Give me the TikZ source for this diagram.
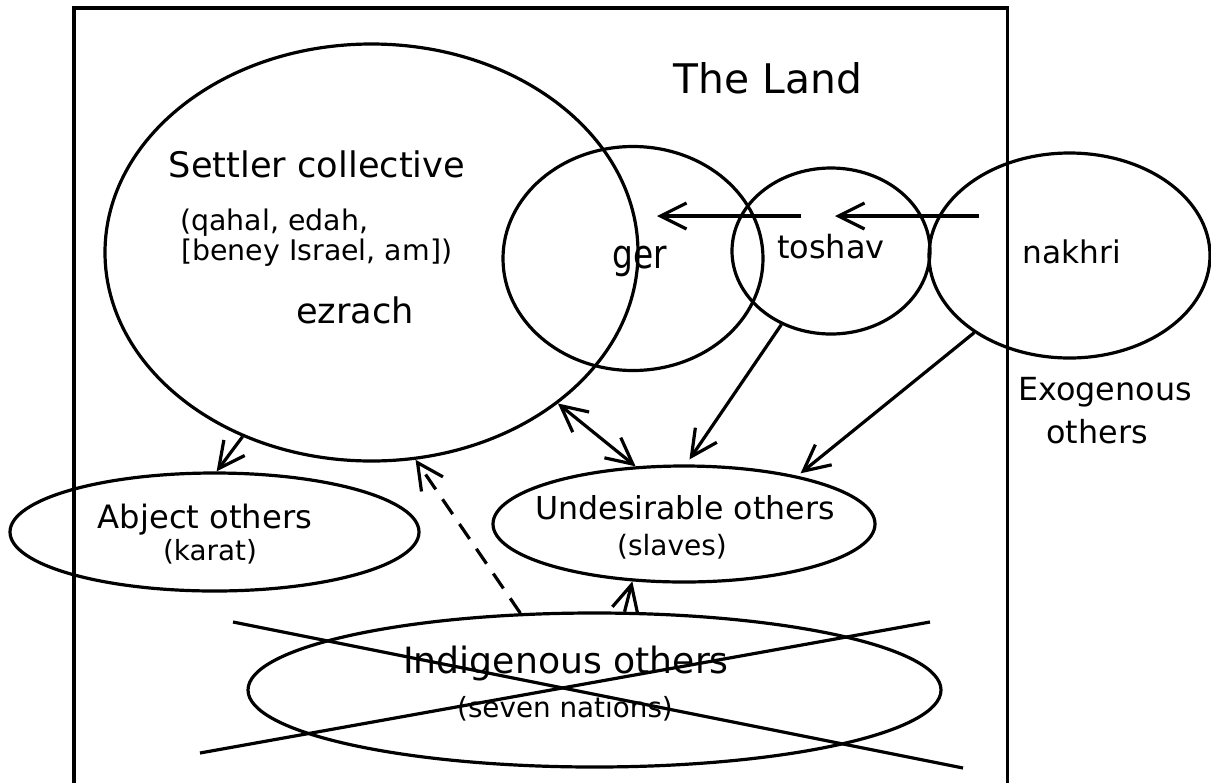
\documentclass[tikz,border=0pt]{standalone}
\usepackage{fontspec}
\setmainfont{DejaVu Sans}
\usetikzlibrary{shapes.geometric,arrows.meta}
\newcommand{\myfs}[1]{\fontsize{#1}{#1}\selectfont}
\tikzset{
  blob/.style={draw, ellipse, line width=1.6pt, inner sep=0pt},
  lbl/.style={inner sep=0pt, anchor=base},
  lblw/.style={inner sep=0pt, anchor=base west},
  arr/.style={line width=1.6pt, -{Straight Barb[length=13pt,width=13pt]}},
  darr/.style={line width=1.6pt, {Straight Barb[length=13pt,width=13pt]}-{Straight Barb[length=13pt,width=13pt]}},
  frame/.style={line width=1.6pt},
}
\begin{document}
\begin{tikzpicture}[x=0.5pt,y=-0.5pt]
\useasboundingbox (0,0) rectangle (1211,783);
% frame of the land
\coordinate (fbl) at (74,783);
\coordinate (ftl) at (74,8);
\coordinate (ftr) at (1007.5,8);
\coordinate (fbr) at (1007.5,783);
\draw[frame] (fbl) -- (ftl) -- (ftr) -- (fbr);
\node[lbl] (land) at (768,93) {\myfs{20.4pt}The Land};

% ellipses
\node[blob, minimum width=266.5pt, minimum height=208.5pt] (settler) at (371.5,252.5) {};
\node[blob, minimum width=130pt, minimum height=112pt] (ger) at (633,258.5) {};
\node[blob, minimum width=99pt, minimum height=83pt] (toshav) at (831,251) {};
\node[blob, minimum width=140.5pt, minimum height=102.5pt] (nakhri) at (1069.5,255.5) {};
\node[blob, minimum width=204.5pt, minimum height=59pt] (abject) at (214.5,532) {};
\node[blob, minimum width=191pt, minimum height=58pt] (undes) at (684,524) {};
\node[blob, minimum width=346.5pt, minimum height=77pt] (indig) at (594.5,690) {};

% texts
\node[lbl] (t1) at (317,177) {\myfs{17.6pt}Settler collective};
\node[lblw] (t2) at (180,230) {\myfs{14.2pt}(qahal, edah,};
\node[lblw] (t3) at (181,260) {\myfs{14.2pt}[beney Israel, am])};
\node[lbl] (t4) at (355,323) {\myfs{17.6pt}ezrach};
\node[lbl] (tger) at (640,268) {\scalebox{0.82}[1]{\myfs{20pt}ger}};
\node[lbl] (ttosh) at (831,258) {\myfs{16pt}toshav};
\node[lbl] (tnak) at (1072,263) {\myfs{15.6pt}nakhri};
\node[lbl] (exo1) at (1105,400) {\myfs{15.9pt}Exogenous};
\node[lbl] (exo2) at (1097,443) {\myfs{15.9pt}others};
\node[lbl] (ab1) at (205,528) {\myfs{16.1pt}Abject others};
\node[lbl] (ab2) at (210,560) {\myfs{13.9pt}(karat)};
\node[lbl] (un1) at (685,519) {\myfs{15.8pt}Undesirable others};
\node[lbl] (un2) at (672,555) {\myfs{14pt}(slaves)};
\node[lbl] (in1) at (566,673) {\myfs{18.1pt}Indigenous others};
\node[lbl] (in2) at (565,717) {\myfs{13.9pt}(seven nations)};

% horizontal arrows nakhri -> toshav -> ger
\coordinate (h1s) at (979,216);
\coordinate (h1e) at (835,216);
\coordinate (h2s) at (801,216);
\coordinate (h2e) at (657,216);
\draw[arr] (h1s) -- (h1e);
\draw[arr] (h2s) -- (h2e);

% arrows
\draw[arr] (settler.235) -- (abject.88);
\draw[darr] (settler.-39) -- (undes.130);
\draw[arr, shorten >=3pt] (toshav.236) -- (undes.88);
\draw[arr, shorten >=2pt] (nakhri.219) -- (undes.23);
\draw[arr] (indig.69) -- (undes.228);
\draw[arr, dash pattern=on 9pt off 6pt] (indig.134) -- (settler.-78);

% crossing out the indigenous others
\coordinate (xa1) at (233,622);
\coordinate (xa2) at (963,768);
\coordinate (xb1) at (200,753);
\coordinate (xb2) at (930,622);
\draw[frame] (xa1) -- (xa2);
\draw[frame] (xb1) -- (xb2);
\end{tikzpicture}
\end{document}
